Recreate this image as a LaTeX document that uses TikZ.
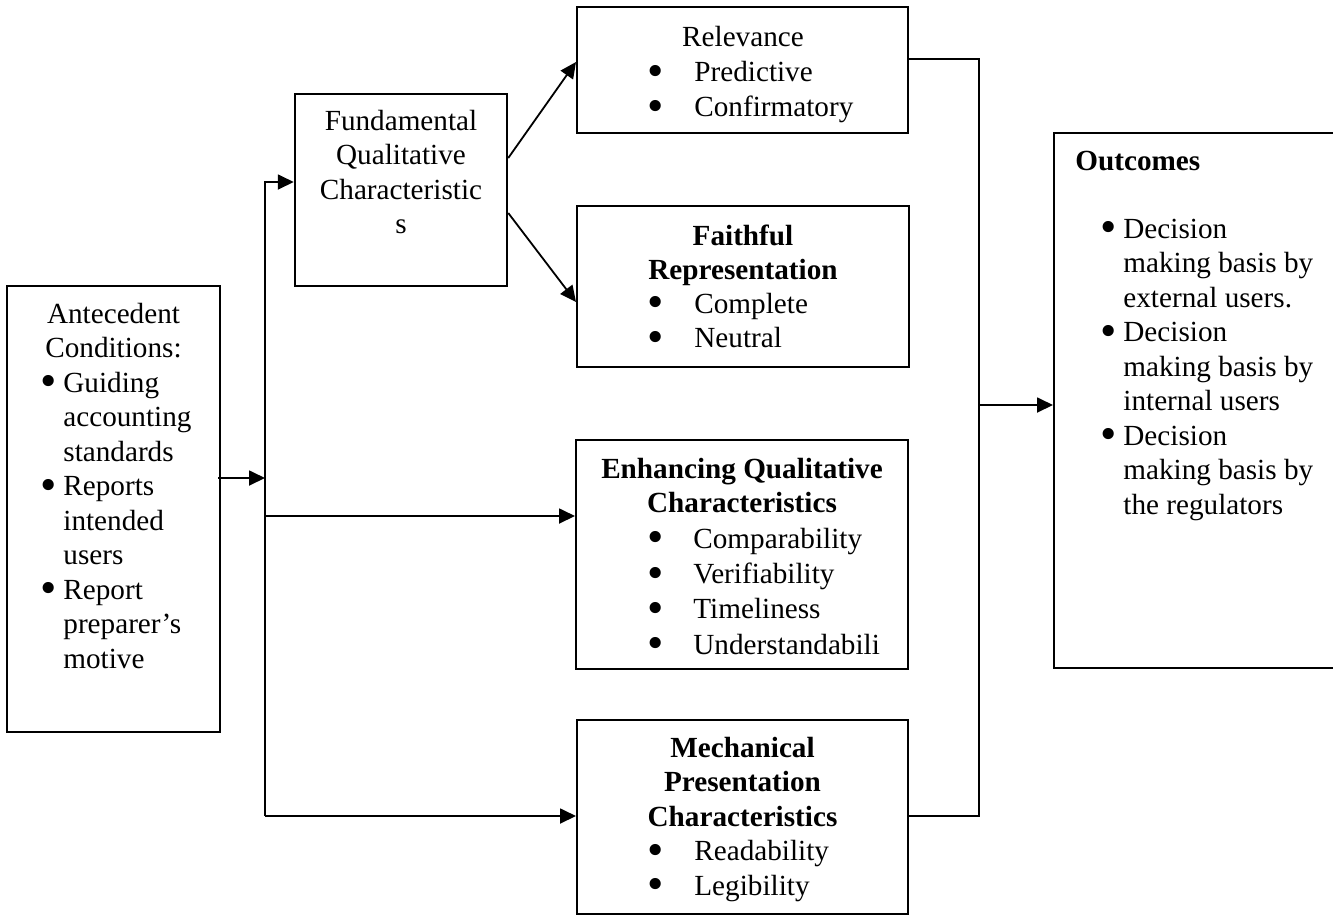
\documentclass[tikz,border=0pt]{standalone}
\usepackage{fontspec}
\usepackage{graphicx}
\setmainfont{Liberation Serif}
\usetikzlibrary{arrows.meta}
\tikzset{
  box/.style={draw, line width=1pt, rectangle, inner sep=0pt},
  conn/.style={line width=0.9pt},
  arr/.style={conn, -{Triangle[length=8pt,width=7.5pt]}},
  txt/.style={inner sep=0pt, anchor=base west},
  ctxt/.style={inner sep=0pt, anchor=base},
}
\newcommand{\bfont}{\fontsize{14.6pt}{17.25pt}\selectfont}
\newcommand{\bul}[1]{\makebox[#1][l]{\smash{\raisebox{-0.35ex}{\scalebox{1.6}{•}}}}}
\begin{document}
\begin{tikzpicture}[x=0.5pt,y=-0.5pt]
\useasboundingbox (0,0) rectangle (1333,917);
% boxes (centres and sizes in px; 1px = 0.5pt)
\node[box, minimum width=106.5pt, minimum height=223pt] (ante) at (113.5,509) {};
\node[box, minimum width=106.25pt, minimum height=96pt] (fund) at (401,190) {};
\node[box, minimum width=165.5pt, minimum height=63pt] (rel) at (742.5,70) {};
\node[box, minimum width=166pt, minimum height=80.5pt] (faith) at (743,286.5) {};
\node[box, minimum width=166pt, minimum height=114.5pt] (enh) at (742,554.5) {};
\node[box, minimum width=165.5pt, minimum height=97pt] (mech) at (742.5,817) {};
\node[box, minimum width=141pt, minimum height=267.5pt] (out) at (1195,400) {};

% texts
\node[ctxt] (anteT1) at (113.5,323) {\bfont Antecedent};
\node[ctxt] (anteT2) at (113.5,357.5) {\bfont Conditions:};
\node[txt] (anteB) at (40,392) {\bfont\parbox[t]{90pt}{\raggedright
  \bul{11.5pt}Guiding\\
  \hspace*{11.5pt}accounting\\
  \hspace*{11.5pt}standards\\
  \bul{11.5pt}Reports\\
  \hspace*{11.5pt}intended\\
  \hspace*{11.5pt}users\\
  \bul{11.5pt}Report\\
  \hspace*{11.5pt}preparer’s\\
  \hspace*{11.5pt}motive}};

\node[ctxt] (fundT) at (401,130) {\bfont\parbox[t]{110pt}{\centering
  Fundamental\\ Qualitative\\ Characteristic\\ s}};

\node[ctxt] (relT) at (743,46) {\bfont Relevance};
\node[txt] (relB) at (647,81.5) {\fontsize{14.6pt}{17.6pt}\selectfont\parbox[t]{150pt}{\raggedright
  \bul{23.5pt}Predictive\\
  \bul{23.5pt}Confirmatory}};

\node[ctxt] (faithT) at (743,245) {\bfont\parbox[t]{150pt}{\centering\bfseries
  Faithful\\ Representation}};
\node[txt] (faithB) at (647,313) {\bfont\parbox[t]{150pt}{\raggedright
  \bul{23.5pt}Complete\\
  \bul{23.5pt}Neutral}};

\node[ctxt] (enhT) at (742,478) {\bfont\parbox[t]{160pt}{\centering\bfseries
  Enhancing Qualitative\\ Characteristics}};
\node[txt] (enhB) at (647,548) {\fontsize{14.6pt}{17.7pt}\selectfont\parbox[t]{150pt}{\raggedright
  \bul{23pt}Comparability\\
  \bul{23pt}Verifiability\\
  \bul{23pt}Timeliness\\
  \bul{23pt}Understandabili}};

\node[ctxt] (mechT) at (742.5,757) {\bfont\parbox[t]{160pt}{\centering\bfseries
  Mechanical\\ Presentation\\ Characteristics}};
\node[txt] (mechB) at (647,860.5) {\bfont\parbox[t]{150pt}{\raggedright
  \bul{23.5pt}Readability\\
  \bul{23.5pt}Legibility}};

\node[txt] (outT) at (1075,170) {\bfont\bfseries Outcomes};
\node[txt] (outB) at (1100,238) {\bfont\parbox[t]{120pt}{\raggedright
  \bul{11.5pt}Decision\\
  \hspace*{11.5pt}making basis by\\
  \hspace*{11.5pt}external users.\\
  \bul{11.5pt}Decision\\
  \hspace*{11.5pt}making basis by\\
  \hspace*{11.5pt}internal users\\
  \bul{11.5pt}Decision\\
  \hspace*{11.5pt}making basis by\\
  \hspace*{11.5pt}the regulators}};

% connectors
\coordinate (busIn) at (265,478);
\coordinate (busTop) at (265,182);
\coordinate (busEnh) at (265,516);
\coordinate (busMech) at (265,816);
\coordinate (rbusTop) at (979,59);
\coordinate (rbusMid) at (979,405);
\coordinate (rbusBot) at (979,816);

\draw[arr] ([xshift=-1.5pt]ante.east |- busIn) -- (busIn);
\draw[arr] (busMech) -- (busTop) -- (fund.west |- busTop);
\draw[arr] (busEnh) -- (enh.west |- busEnh);
\draw[arr] (busMech) -- (mech.west |- busMech);

\draw[arr] ([yshift=16pt]fund.east) -- ([yshift=4pt]rel.west);
\draw[arr] ([yshift=-11.5pt]fund.east) -- ([yshift=-7.75pt]faith.west);

\draw[conn] ([yshift=5.5pt]rel.east) -- (rbusTop) -- (rbusBot) -- (mech.east |- rbusBot);
\draw[arr] (rbusMid) -- (out.west |- rbusMid);
\end{tikzpicture}
\end{document}
